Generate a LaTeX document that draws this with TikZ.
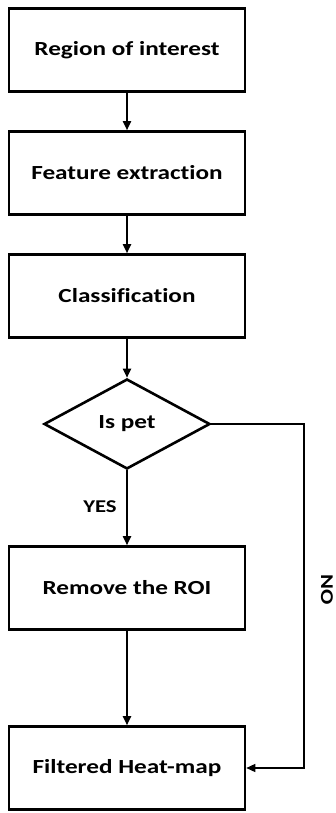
\documentclass[tikz,border=0pt]{standalone}
\usepackage{fontspec}
\setmainfont{Carlito}[FakeStretch=1.26, Ligatures=NoCommon]
\usepackage{tikz}
\usetikzlibrary{shapes.geometric, arrows.meta}

\begin{document}
\begin{tikzpicture}[x=1pt, y=1pt,
    procbox/.style={draw, line width=2.6pt, minimum width=236pt, minimum height=83pt,
        font=\fontsize{20}{24}\selectfont\bfseries},
    decide/.style={draw, diamond, line width=2.6pt, minimum width=166pt, minimum height=90pt,
        aspect=1.84, inner sep=0pt, font=\fontsize{20}{24}\selectfont\bfseries},
    flow/.style={-{Triangle[length=9pt, width=8pt]}, line width=1.8pt}]
    \useasboundingbox (0, 0) rectangle (336, -813);

    % main column
    \node[procbox] (roi) at (127, -50) {Region of interest};
    \node[procbox] (feat) at (127, -173) {Feature extraction};
    \node[procbox] (class) at (127, -296) {Classification};
    \node[decide] (pet) at (127, -424) {Is pet};
    \node[procbox] (remove) at (127, -588) {Remove the ROI};
    \node[procbox] (heat) at (127, -768) {Filtered Heat-map};

    \draw[flow] (roi) -- (feat);
    \draw[flow] (feat) -- (class);
    \draw[flow] (class) -- (pet);
    \draw[flow] (pet) -- (remove);
    \draw[flow] (remove) -- (heat);

    % Labels
    \node[font=\fontsize{18}{22}\selectfont\bfseries] (yes) at (100, -507) {YES};

    % NO branch
    \coordinate (corner) at (304, -424);
    \draw[flow, line width=1.4pt] (pet.east) -- (corner) |- (heat.east);
    \node[font=\fontsize{18}{22}\selectfont\bfseries, rotate=-90] (no) at (327, -590) {NO};
\end{tikzpicture}
\end{document}
